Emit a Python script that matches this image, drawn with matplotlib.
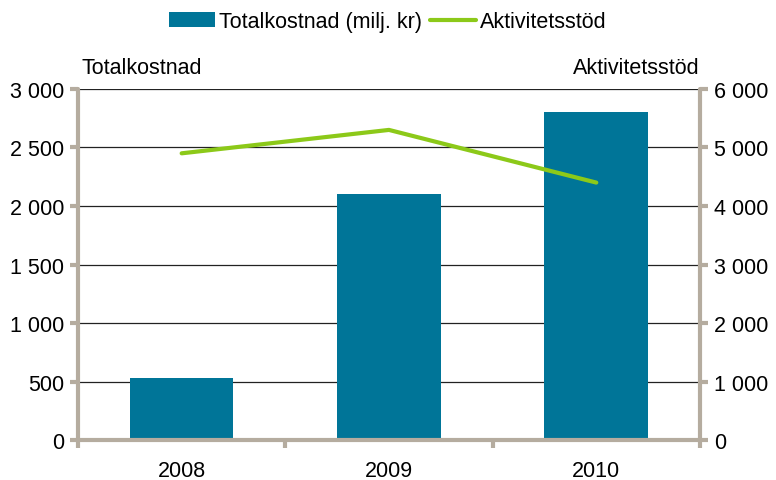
import numpy as np
import matplotlib.pyplot as plt
from matplotlib.ticker import FuncFormatter

years = ['2008', '2009', '2010']
totalkostnad = [530, 2100, 2800]      # milj. kr, left axis
aktivitetsstod = [4900, 5300, 4400]   # right axis

left_ticks = [0, 500, 1000, 1500, 2000, 2500, 3000]
right_ticks = [0, 1000, 2000, 3000, 4000, 5000, 6000]

fs = 15.5
plt.rcParams['font.family'] = ['Liberation Sans', 'DejaVu Sans']
plt.rcParams['font.size'] = fs

bar_color = '#007598'
line_color = '#8CC919'
spine_color = '#B5AC9F'


def fmt(v, pos):
    return f'{int(v):,}'.replace(',', ' ')


fig = plt.figure(figsize=(7.76, 4.81), dpi=100)
ax = fig.add_axes([0.1005, 0.083, 0.8015, 0.730])
ax2 = ax.twinx()

x = np.arange(len(years))
bars = ax.bar(x, totalkostnad, width=0.5, color=bar_color, zorder=2,
              label='Totalkostnad (milj. kr)')
line, = ax2.plot(x, aktivitetsstod, color=line_color, lw=3,
                 solid_capstyle='round', label='Aktivitetsstöd')

ax.set_xlim(-0.5, 2.5)
ax.set_ylim(0, 3000)
ax2.set_ylim(0, 6000)
ax.set_yticks(left_ticks)
ax2.set_yticks(right_ticks)
ax.yaxis.set_major_formatter(FuncFormatter(fmt))
ax2.yaxis.set_major_formatter(FuncFormatter(fmt))

ax.set_xticks(x)
ax.set_xticklabels(years)
ax.set_xticks([-0.5, 0.5, 1.5, 2.5], minor=True)
ax.tick_params(axis='x', which='major', length=0, pad=14)
ax.tick_params(axis='x', which='minor', length=6, width=3, color=spine_color)

ax.grid(axis='y', color='#222222', lw=0.9, zorder=0)
ax.set_axisbelow(True)

for a in (ax, ax2):
    for s in a.spines.values():
        s.set_visible(False)
ax.spines['left'].set_visible(True)
ax.spines['bottom'].set_visible(True)
ax2.spines['right'].set_visible(True)
for s in (ax.spines['left'], ax.spines['bottom'], ax2.spines['right']):
    s.set_color(spine_color)
    s.set_linewidth(3)
    s.set_capstyle('round')

ax.tick_params(axis='y', length=6, width=3, color=spine_color, pad=4)
ax2.tick_params(axis='y', length=6, width=3, color=spine_color, pad=4)

ax.text(0.005, 1.03, 'Totalkostnad', transform=ax.transAxes,
        ha='left', va='bottom', fontsize=fs)
ax2.text(1.0, 1.03, 'Aktivitetsstöd', transform=ax2.transAxes,
         ha='right', va='bottom', fontsize=fs)

fig.legend(handles=[bars, line], loc='upper center', bbox_to_anchor=(0.5, 1.015),
           ncol=2, frameon=False, fontsize=fs, handlelength=2.1,
           handletextpad=0.2, columnspacing=0.4)

fig.savefig('out.png', dpi=100)
